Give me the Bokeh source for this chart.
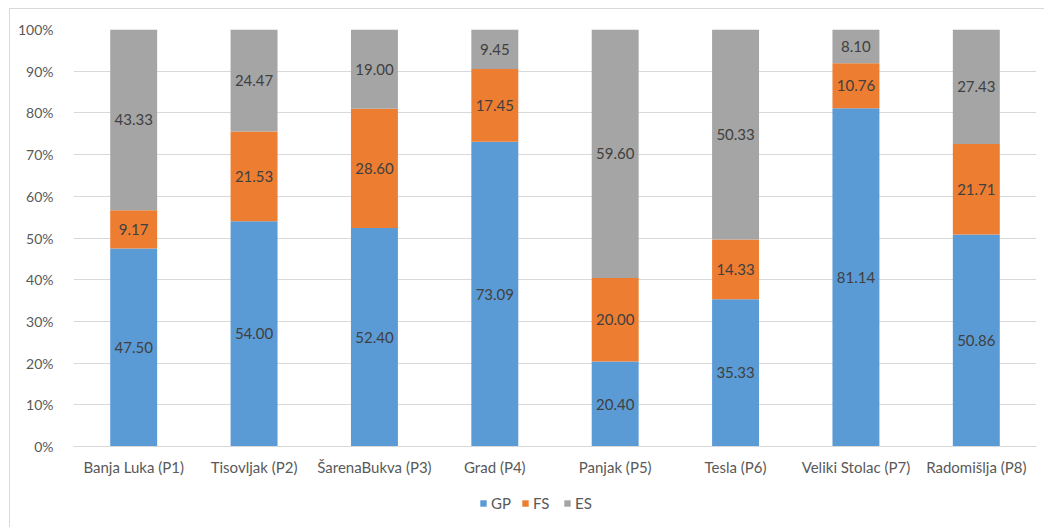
from bokeh.plotting import figure
from bokeh.models import (ColumnDataSource, FactorRange, Range1d, PrintfTickFormatter,
                          FixedTicker, Legend, LegendItem)
from bokeh.core.properties import value
from bokeh.embed import file_html
from bokeh.resources import INLINE

sites = ["Banja Luka (P1)", "Tisovljak (P2)", "ŠarenaBukva (P3)", "Grad (P4)",
         "Panjak (P5)", "Tesla (P6)", "Veliki Stolac (P7)", "Radomišlja (P8)"]
gp = [47.50, 54.00, 52.40, 73.09, 20.40, 35.33, 81.14, 50.86]
fs = [9.17, 21.53, 28.60, 17.45, 20.00, 14.33, 10.76, 21.71]
es = [43.33, 24.47, 19.00, 9.45, 59.60, 50.33, 8.10, 27.43]
series = ["GP", "FS", "ES"]
colors = ["#5B9BD5", "#ED7D31", "#A5A5A5"]
y_ticks = [0, 10, 20, 30, 40, 50, 60, 70, 80, 90, 100]

FONT = "Lato"
TEXT = "#595959"

src = ColumnDataSource(dict(site=sites, GP=gp, FS=fs, ES=es))

# the frame runs to the bottom edge so the category labels and legend sit inside it
p = figure(x_range=FactorRange(*sites, range_padding=0), y_range=Range1d(-19.4, 100),
           frame_width=963, frame_height=498, output_backend="svg", toolbar_location=None,
           min_border_left=63, min_border_right=8, min_border_top=20, min_border_bottom=0)
# light frame along the chart's outer edge
p.margin = (8, 0, 0, 9)
p.styles = {"border-left": "1px solid #d9d9d9", "border-top": "1px solid #d9d9d9"}
p.outline_line_color = None

renderers = p.vbar_stack(series, x="site", width=0.39, source=src, color=colors, line_color=None)

# value labels centred in each stacked segment
label_x, label_y, label_t = [], [], []
for i, s in enumerate(sites):
    base = 0.0
    for vals in (gp, fs, es):
        v = vals[i]
        label_x.append(s)
        label_y.append(base + v / 2)
        label_t.append(f"{v:.2f}")
        base += v
lsrc = ColumnDataSource(dict(x=label_x, y=label_y, t=label_t))
p.text(x="x", y="y", text="t", source=lsrc, text_align="center", text_baseline="middle",
       text_font=value(FONT), text_font_size="15px", text_color="#404040")

p.yaxis.ticker = FixedTicker(ticks=y_ticks)
p.yaxis.formatter = PrintfTickFormatter(format="%d%%")
p.ygrid.ticker = FixedTicker(ticks=y_ticks)
p.ygrid.grid_line_color = "#d9d9d9"
p.xgrid.grid_line_color = None
p.yaxis.axis_line_color = None
p.xaxis.axis_line_color = "#d9d9d9"
p.xaxis.fixed_location = 0
for ax in (p.xaxis, p.yaxis):
    ax.major_tick_line_color = None
    ax.minor_tick_line_color = None
    ax.major_label_text_font = FONT
    ax.major_label_text_color = TEXT
p.yaxis.major_label_text_font_size = "14px"
p.xaxis.major_label_text_font_size = "15px"
p.yaxis.major_label_standoff = 14
p.xaxis.major_label_standoff = 5

legend = Legend(items=[LegendItem(label=n, renderers=[r]) for n, r in zip(series, renderers)],
                orientation="horizontal", location=(406, 15), border_line_color=None,
                background_fill_alpha=0,
                label_text_font=FONT, label_text_font_size="15px", label_text_color=TEXT,
                glyph_width=8, glyph_height=8, spacing=10, label_standoff=4,
                padding=0, margin=0)
p.add_layout(legend, "center")

open("out.html", "w").write(file_html(p, INLINE))
